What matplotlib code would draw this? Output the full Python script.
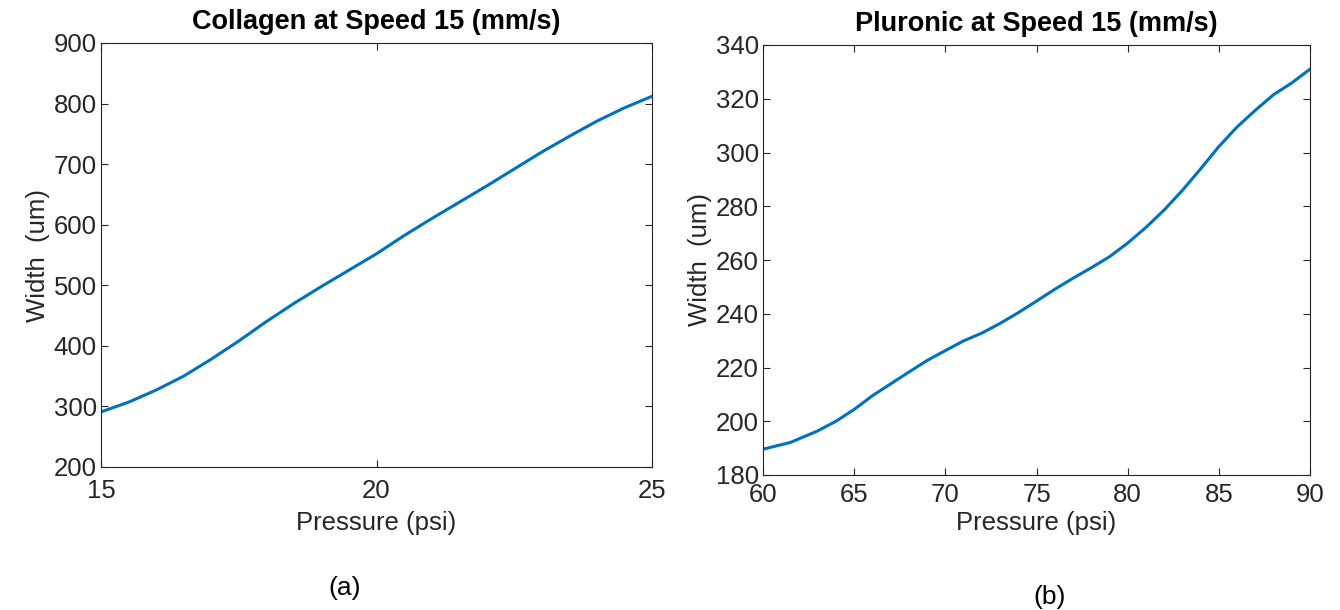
import matplotlib
matplotlib.use("Agg")
import matplotlib.pyplot as plt

plt.rcParams['font.family'] = ['Liberation Sans', 'DejaVu Sans']

# Collagen data
collagen_pressure = [15, 15.5, 16, 16.5, 17, 17.5, 18, 18.5, 19, 19.5, 20,
                     20.5, 21, 21.5, 22, 22.5, 23, 23.5, 24, 24.5, 25]
collagen_width = [291, 307, 327, 350, 378, 408, 440, 470, 498, 525, 552,
                  582, 610, 637, 664, 692, 720, 746, 771, 793, 812]

# Pluronic data
pluronic_pressure = [60, 61.5, 63, 64, 65, 66, 67, 68, 69, 70, 71, 72, 73, 74, 75,
                     76, 77, 78, 79, 80, 81, 82, 83, 84, 85, 86, 87, 88, 89, 90]
pluronic_width = [189.6, 192.1, 196.4, 200.0, 204.4, 209.5, 213.9, 218.3, 222.6, 226.3,
                  229.9, 232.8, 236.4, 240.4, 244.7, 249.1, 253.2, 257.1, 261.2, 266.3,
                  272.1, 278.6, 285.9, 293.9, 302.2, 309.5, 315.7, 321.5, 325.9, 331.0]

collagen_xticks = [15, 20, 25]
collagen_yticks = [200, 300, 400, 500, 600, 700, 800, 900]
pluronic_xticks = [60, 65, 70, 75, 80, 85, 90]
pluronic_yticks = [180, 200, 220, 240, 260, 280, 300, 320, 340]

W, H = 1340, 610
fig = plt.figure(figsize=(W / 100, H / 100), dpi=100)

line_color = '#0072BD'
dark = '#262626'
FS = 18.5


def make_axes(l, r, t, b):
    return fig.add_axes([l / W, 1 - b / H, (r - l) / W, (b - t) / H])


def style(ax, xpad):
    for s in ax.spines.values():
        s.set_color(dark)
        s.set_linewidth(0.8)
    ax.tick_params(direction='in', top=True, right=True, labelsize=FS,
                   colors=dark, length=5, width=0.8)
    ax.tick_params(axis='y', pad=3)
    ax.tick_params(axis='x', pad=xpad)


ax1 = make_axes(101, 652, 43, 467)
ax1.plot(collagen_pressure, collagen_width, color=line_color, lw=2.2)
ax1.set_xlim(15, 25)
ax1.set_ylim(200, 900)
ax1.set_xticks(collagen_xticks)
ax1.set_yticks(collagen_yticks)
style(ax1, 9)
ax1.set_title('Collagen at Speed 15 (mm/s)', fontsize=19.5, fontweight='bold', pad=10)
ax1.set_xlabel('Pressure (psi)', fontsize=FS, color=dark)
ax1.set_ylabel('Width  (um)', fontsize=FS, color=dark)
ax1.xaxis.set_label_coords(0.5, -(523 - 467) / (467 - 43))
ax1.yaxis.set_label_coords(-(101 - 38) / (652 - 101), 0.5)
ax1.xaxis.label.set_va('center')
ax1.yaxis.label.set_va('center')

ax2 = make_axes(763, 1310, 45, 475)
ax2.plot(pluronic_pressure, pluronic_width, color=line_color, lw=2.2)
ax2.set_xlim(60, 90)
ax2.set_ylim(180, 340)
ax2.set_xticks(pluronic_xticks)
ax2.set_yticks(pluronic_yticks)
style(ax2, 6)
ax2.set_title('Pluronic at Speed 15 (mm/s)', fontsize=19.5, fontweight='bold', pad=10)
ax2.set_xlabel('Pressure (psi)', fontsize=FS, color=dark)
ax2.set_ylabel('Width  (um)', fontsize=FS, color=dark)
ax2.xaxis.set_label_coords(0.5, -(523 - 475) / (475 - 45))
ax2.yaxis.set_label_coords(-(763 - 700) / (1310 - 763), 0.5)
ax2.xaxis.label.set_va('center')
ax2.yaxis.label.set_va('center')

fig.text(345 / W, 1 - 588 / H, '(a)', fontsize=19, ha='center', va='center', color='black')
fig.text(1050 / W, 1 - 597 / H, '(b)', fontsize=19, ha='center', va='center', color='black')

fig.savefig('out.png', dpi=100)
